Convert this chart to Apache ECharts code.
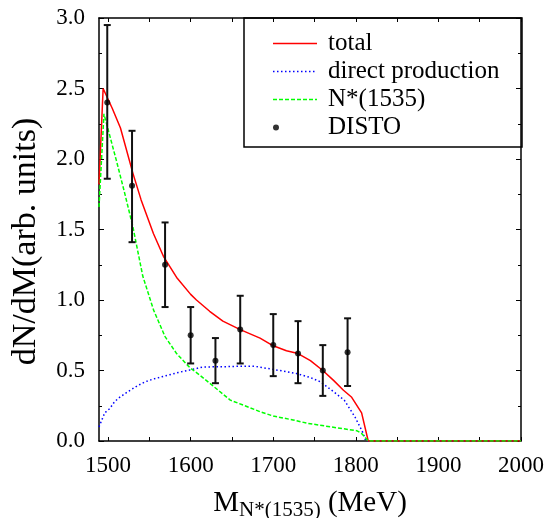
<!DOCTYPE html>
<html><head><meta charset="utf-8">
<script src="https://cdn.jsdelivr.net/npm/echarts@6/dist/echarts.min.js"></script>
<style>html,body{margin:0;padding:0;background:#fff}#c{width:551px;height:518px}</style>
</head><body><div id="c"></div>
<script>
// ---- data ----
const xLabelValues = [1500, 1600, 1700, 1800, 1900, 2000];
const xTickValues = [1500, 1550, 1600, 1650, 1700, 1750, 1800, 1850, 1900, 1950, 2000];

const totalX = [1489, 1494, 1505, 1515, 1530, 1540, 1555, 1567, 1583, 1600, 1607, 1623, 1639, 1660, 1684, 1700, 1716, 1730, 1745, 1760, 1773, 1785, 1795, 1807, 1815, 2000];
const totalY = [1.82, 2.50, 2.36, 2.22, 1.90, 1.71, 1.47, 1.31, 1.16, 1.04, 1.00, 0.92, 0.85, 0.79, 0.73, 0.675, 0.64, 0.62, 0.57, 0.50, 0.43, 0.36, 0.31, 0.20, 0.0, 0.0];

const directX = [1489, 1496, 1502, 1508, 1514, 1524, 1535, 1545, 1555, 1565, 1585, 1600, 1615, 1640, 1660, 1676, 1700, 1728, 1745, 1757, 1773, 1786, 1799, 1809, 1812, 2000];
const directY = [0.10, 0.20, 0.23, 0.28, 0.31, 0.35, 0.39, 0.42, 0.44, 0.455, 0.486, 0.505, 0.525, 0.527, 0.53, 0.531, 0.508, 0.479, 0.45, 0.42, 0.35, 0.29, 0.17, 0.054, 0.0, 0.0];

const nstarX = [1489, 1495, 1510, 1520, 1530, 1542, 1555, 1569, 1583, 1599, 1611, 1623, 1648, 1684, 1700, 1724, 1742, 1770, 1801, 1807, 1815, 2000];
const nstarY = [1.66, 2.32, 1.99, 1.76, 1.52, 1.17, 0.93, 0.74, 0.62, 0.52, 0.467, 0.41, 0.29, 0.208, 0.177, 0.149, 0.125, 0.10, 0.073, 0.054, 0.0, 0.0];

const distoX = [1499, 1529, 1569, 1600, 1630, 1660, 1700, 1730, 1760, 1790];
const distoY = [2.40, 1.81, 1.25, 0.75, 0.57, 0.79, 0.68, 0.62, 0.50, 0.63];
const distoLow = [1.86, 1.41, 0.95, 0.55, 0.41, 0.55, 0.46, 0.41, 0.32, 0.39];
const distoHigh = [2.95, 2.20, 1.55, 0.95, 0.73, 1.03, 0.90, 0.85, 0.68, 0.87];

// ---- chart ----
const FONT = 'Liberation Serif';
const zip = (a, b) => a.map((v, i) => [v, b[i]]);
const chart = echarts.init(document.getElementById('c'), null, {renderer: 'canvas'});

// legend icon paths (line samples drawn as filled segments)
function segPath(dash, gap, total, h) {
  let p = 'path://M0,0L0.01,0L0,0.01Z ';
  const y0 = h / 2 - 0.75, y1 = h / 2 + 0.75;
  for (let x = 0; x < total; x += dash + gap) {
    const x2 = Math.min(total, x + dash);
    p += 'M' + x + ',' + y0 + 'L' + x2 + ',' + y0 + 'L' + x2 + ',' + y1 + 'L' + x + ',' + y1 + 'Z ';
  }
  p += 'M' + total + ',' + h + 'L' + (total - 0.01) + ',' + h + 'L' + total + ',' + (h - 0.01) + 'Z';
  return p;
}

const axisLineStyle = {color: '#000', width: 1.5};
const xCommon = {
  type: 'value', min: 1489, max: 2000,
  splitLine: {show: false},
  axisLine: {show: true, onZero: false, lineStyle: axisLineStyle},
  axisTick: {show: true, inside: true, length: 4, customValues: xTickValues, lineStyle: {color: '#000', width: 1}},
};
const yCommon = {
  type: 'value', min: 0, max: 3, interval: 0.5,
  splitLine: {show: false},
  axisLine: {show: true, onZero: false, lineStyle: axisLineStyle},
  axisTick: {show: true, inside: true, length: 5, lineStyle: {color: '#000', width: 1}},
  minorTick: {show: true, splitNumber: 2, length: 3, lineStyle: {color: '#000', width: 1}},
};

const option = {
  backgroundColor: '#fff',
  animation: false,
  textStyle: {fontFamily: FONT},
  grid: {left: 99, right: 30, top: 18, bottom: 77, containLabel: false, outerBoundsMode: 'none'},
  xAxis: [
    Object.assign({}, xCommon, {
      position: 'bottom',
      axisLabel: {show: true, customValues: xLabelValues, margin: 13, color: '#000', fontFamily: FONT, fontSize: 23, formatter: v => String(v)},
      name: '{m|M}{s|N*(1535)}{m| (MeV)}',
      nameLocation: 'middle', nameGap: 49,
      nameTextStyle: {
        color: '#000', fontFamily: FONT,
        rich: {
          m: {fontSize: 29, fontFamily: FONT, color: '#000', lineHeight: 26},
          s: {fontSize: 21, fontFamily: FONT, color: '#000', lineHeight: 22, padding: [14, 0, 0, 0]}
        }
      }
    }),
    Object.assign({}, xCommon, {position: 'top', axisLabel: {show: false}})
  ],
  yAxis: [
    Object.assign({}, yCommon, {
      position: 'left',
      axisLabel: {show: true, margin: 14, color: '#000', fontFamily: FONT, fontSize: 23, formatter: v => v.toFixed(1)},
      name: 'dN/dM(arb. units)',
      nameLocation: 'middle', nameGap: 56,
      nameTextStyle: {color: '#000', fontFamily: FONT, fontSize: 34, padding: [0, 24, 0, 0]}
    }),
    Object.assign({}, yCommon, {position: 'right', axisLabel: {show: false}})
  ],
  legend: {
    orient: 'vertical', left: 273, top: 31, padding: 0,
    itemWidth: 44, itemHeight: 20, itemGap: 3,
    textStyle: {color: '#000', fontFamily: FONT, fontSize: 25, padding: [0, 0, 0, 6]},
    data: [
      {name: 'total', icon: segPath(44, 0, 44, 20), itemStyle: {color: '#ff0000'}},
      {name: 'direct production', icon: segPath(1.5, 2.5, 44, 20), itemStyle: {color: '#0000ff'}},
      {name: 'N*(1535)', icon: segPath(4, 2, 44, 20), itemStyle: {color: '#00ff00'}},
      {name: 'DISTO', icon: 'path://M0,0L0.01,0L0,0.01Z M0,10a3,3 0 1,0 6,0a3,3 0 1,0 -6,0Z M44,20L43.99,20L44,19.99Z', itemStyle: {color: '#000'}}
    ]
  },
  graphic: [
    {type: 'rect', shape: {x: 244, y: 18, width: 278, height: 129}, style: {fill: 'none', stroke: '#000', lineWidth: 1.5}, z: 100}
  ],
  series: [
    {
      name: 'total', type: 'line', data: zip(totalX, totalY), showSymbol: false, symbol: 'none',
      lineStyle: {color: '#ff0000', width: 1.5}, itemStyle: {color: '#ff0000'}, z: 3
    },
    {
      name: 'direct production', type: 'line', data: zip(directX, directY), showSymbol: false, symbol: 'none',
      lineStyle: {color: '#0000ff', width: 1.5, type: [1.5, 2.5]}, itemStyle: {color: '#0000ff'}, z: 2
    },
    {
      name: 'N*(1535)', type: 'line', data: zip(nstarX, nstarY), showSymbol: false, symbol: 'none',
      lineStyle: {color: '#00ff00', width: 1.5, type: [4, 2]}, itemStyle: {color: '#00ff00'}, z: 4
    },
    {
      name: 'DISTO-err', type: 'custom',
      data: distoX.map((x, i) => [x, distoLow[i], distoHigh[i]]),
      encode: {x: 0, y: [1, 2]},
      renderItem: function (params, api) {
        const x = api.value(0);
        const pLo = api.coord([x, api.value(1)]);
        const pHi = api.coord([x, api.value(2)]);
        const w = 3.5;
        const st = {stroke: '#111', lineWidth: 2};
        return {
          type: 'group', children: [
            {type: 'line', shape: {x1: pLo[0], y1: pLo[1], x2: pHi[0], y2: pHi[1]}, style: st},
            {type: 'line', shape: {x1: pLo[0] - w, y1: pLo[1], x2: pLo[0] + w, y2: pLo[1]}, style: st},
            {type: 'line', shape: {x1: pHi[0] - w, y1: pHi[1], x2: pHi[0] + w, y2: pHi[1]}, style: st}
          ]
        };
      },
      z: 5
    },
    {
      name: 'DISTO', type: 'scatter', data: zip(distoX, distoY), symbol: 'circle', symbolSize: 6,
      itemStyle: {color: '#000'}, z: 6
    }
  ]
};
chart.setOption(option);
</script>
</body></html>
